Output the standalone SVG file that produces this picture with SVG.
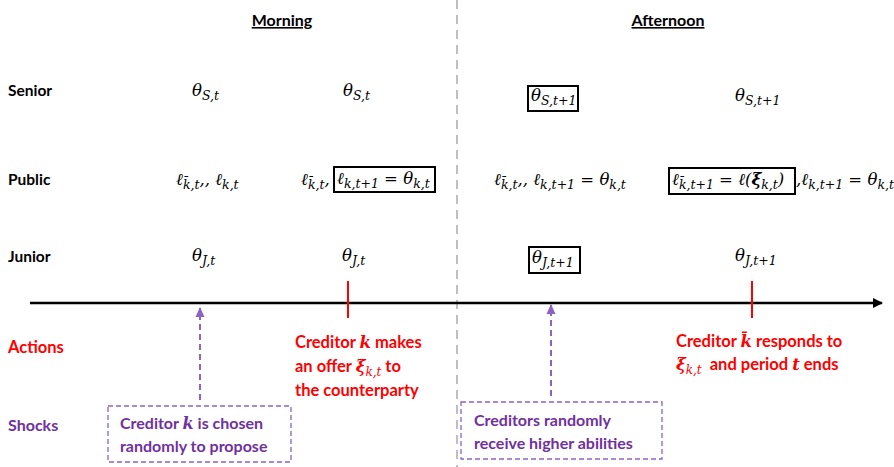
<svg xmlns="http://www.w3.org/2000/svg" width="894" height="467" viewBox="0 0 894 467">
<defs>
<style>
.lbl{font-family:Lato,"Open Sans","Liberation Sans",sans-serif;font-weight:bold;font-size:15.5px;fill:#000}
.hd{font-family:Lato,"Open Sans","Liberation Sans",sans-serif;font-weight:bold;font-size:16px;fill:#000;text-decoration:underline}
.red{font-family:Lato,"Open Sans","Liberation Sans",sans-serif;font-weight:bold;font-size:16.5px;fill:#ff0000}
.pur{font-family:Lato,"Open Sans","Liberation Sans",sans-serif;font-weight:bold;font-size:16px;fill:#7030a0}
.m{font-family:"DejaVu Serif","Liberation Serif",serif;font-style:italic;font-size:16.5px;fill:#000}
.s{font-size:12.5px}
.mi{font-family:"DejaVu Serif","Liberation Serif",serif;font-style:italic;font-weight:bold}
.ms{font-family:"DejaVu Serif","Liberation Serif",serif;font-style:italic;font-weight:normal;font-size:12px}
.box{fill:none;stroke:#000;stroke-width:2}
.dbox{fill:none;stroke:#8e62c4;stroke-width:1.3;stroke-dasharray:5,3}
.tick{stroke:#ff0000;stroke-width:2}
.parr{stroke:#8e62c4;stroke-width:2;stroke-dasharray:6,4;fill:none}
</style>
<marker id="ah" markerWidth="10" markerHeight="10" refX="9" refY="5" orient="auto" markerUnits="userSpaceOnUse">
<path d="M0,0 L10,5 L0,10 z" fill="#000"/>
</marker>
<marker id="ph" markerWidth="10" markerHeight="10" refX="9" refY="5" orient="auto" markerUnits="userSpaceOnUse">
<path d="M0,0.5 L10,5 L0,9.5 z" fill="#8e62c4"/>
</marker>
</defs>
<rect width="894" height="467" fill="#fff"/>

<g id="divider"><line x1="457" y1="0" x2="457" y2="467" stroke="#bfbfbf" stroke-width="2" stroke-dasharray="9,6"/></g>

<g id="headers">
<text class="hd" x="282" y="26" text-anchor="middle">Morning</text>
<text class="hd" x="668" y="26" text-anchor="middle">Afternoon</text>
</g>

<g id="row-labels">
<text class="lbl" x="8" y="96">Senior</text>
<text class="lbl" x="8" y="185">Public</text>
<text class="lbl" x="8" y="262">Junior</text>
<text class="red" x="8" y="353">Actions</text>
<text class="pur" x="8" y="431">Shocks</text>
</g>

<g id="senior">
<text class="m" x="192" y="96">θ<tspan class="s" dy="4">S,t</tspan></text>
<text class="m" x="343" y="96">θ<tspan class="s" dy="4">S,t</tspan></text>
<rect class="box" x="528" y="86" width="50" height="25"/>
<text class="m" x="531" y="101">θ<tspan class="s" dy="4">S,t+1</tspan></text>
<text class="m" x="735" y="101">θ<tspan class="s" dy="4">S,t+1</tspan></text>
</g>

<g id="public">
<text class="m" x="176" y="185">ℓ<tspan class="s" dy="4">k̄,t</tspan><tspan dy="-4">,, ℓ</tspan><tspan class="s" dy="4">k,t</tspan></text>
<text class="m" x="301" y="185">ℓ<tspan class="s" dy="4">k̄,t</tspan><tspan dy="-4">,</tspan></text>
<rect class="box" x="334" y="167" width="101" height="25"/>
<text class="m" x="337" y="184">ℓ<tspan class="s" dy="4">k,t+1</tspan><tspan dy="-4"> = θ</tspan><tspan class="s" dy="4">k,t</tspan></text>
<text class="m" x="494" y="185">ℓ<tspan class="s" dy="4">k̄,t</tspan><tspan dy="-4">,, ℓ</tspan><tspan class="s" dy="4">k,t+1</tspan><tspan dy="-4"> = θ</tspan><tspan class="s" dy="4">k,t</tspan></text>
<rect class="box" x="669" y="168" width="126" height="26"/>
<text class="m" x="672" y="185">ℓ<tspan class="s" dy="4">k̄,t+1</tspan><tspan dy="-4"> = ℓ(</tspan><tspan class="mi">ξ</tspan><tspan class="s" dy="4">k,t</tspan><tspan dy="-4">)</tspan></text>
<text class="m" x="796" y="185">,ℓ<tspan class="s" dy="4">k,t+1</tspan><tspan dy="-4"> = θ</tspan><tspan class="s" dy="4">k,t</tspan></text>
</g>

<g id="junior">
<text class="m" x="192" y="261">θ<tspan class="s" dy="4">J,t</tspan></text>
<text class="m" x="342" y="261">θ<tspan class="s" dy="4">J,t</tspan></text>
<rect class="box" x="529" y="247" width="51" height="26"/>
<text class="m" x="532" y="263">θ<tspan class="s" dy="4">J,t+1</tspan></text>
<text class="m" x="735" y="261">θ<tspan class="s" dy="4">J,t+1</tspan></text>
</g>

<g id="connectors">
<line x1="30" y1="303" x2="882" y2="303" stroke="#000" stroke-width="2.5" marker-end="url(#ah)"/>
<line class="tick" x1="348" y1="281" x2="348" y2="318"/>
<line class="tick" x1="752" y1="281" x2="752" y2="318"/>
<line class="parr" x1="200" y1="400" x2="200" y2="308" marker-end="url(#ph)"/>
<line class="parr" x1="551" y1="396" x2="551" y2="305" marker-end="url(#ph)"/>
</g>

<g id="action-offer">
<text class="red" x="295" y="348">Creditor <tspan class="mi">k</tspan> makes</text>
<text class="red" x="295" y="372">an offer <tspan class="mi">ξ</tspan><tspan class="ms" dy="4">k,t</tspan><tspan dy="-4"> to</tspan></text>
<text class="red" x="295" y="396">the counterparty</text>
</g>

<g id="action-respond">
<text class="red" x="676" y="347">Creditor <tspan class="mi">k̄</tspan> responds to</text>
<text class="red" x="676" y="370"><tspan class="mi">ξ</tspan><tspan class="ms" dy="4">k,t</tspan><tspan dy="-4" xml:space="preserve">  and period </tspan><tspan class="mi">t</tspan> ends</text>
</g>

<g id="shock-propose">
<rect class="dbox" x="108" y="406" width="183" height="56"/>
<text class="pur" x="120" y="429">Creditor <tspan class="mi">k</tspan> is chosen</text>
<text class="pur" x="120" y="452">randomly to propose</text>
</g>

<g id="shock-abilities">
<rect class="dbox" x="461" y="402" width="201" height="57"/>
<text class="pur" x="474" y="426">Creditors randomly</text>
<text class="pur" x="474" y="449">receive higher abilities</text>
</g>
</svg>
